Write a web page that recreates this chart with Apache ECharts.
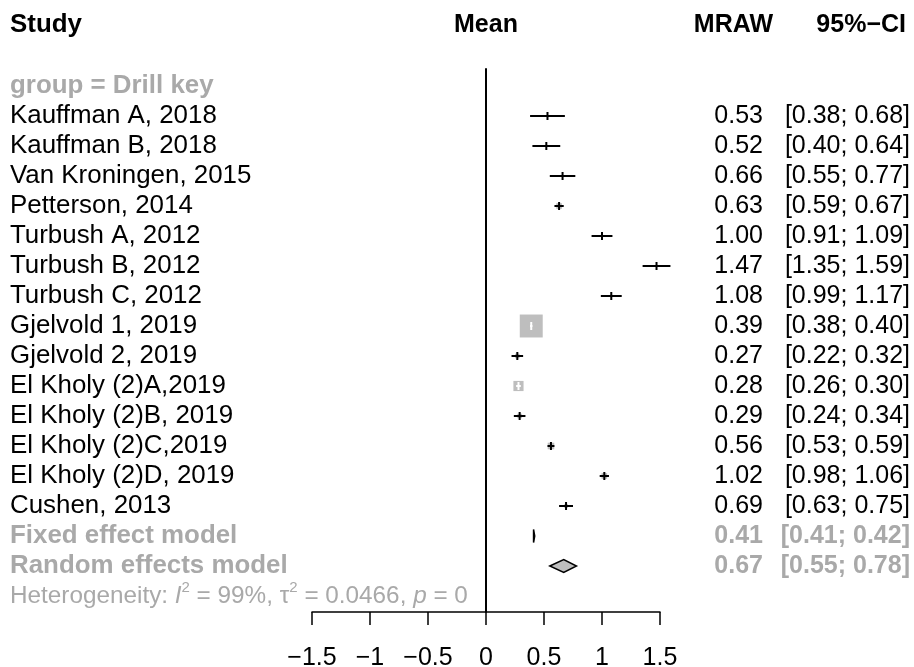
<!DOCTYPE html>
<html>
<head>
<meta charset="utf-8">
<script src="https://cdn.jsdelivr.net/npm/echarts@6/dist/echarts.min.js"></script>
<style>
  html, body { margin: 0; padding: 0; background: #ffffff; }
  #chart { width: 914px; height: 667px; }
</style>
</head>
<body>
<div id="chart"></div>
<script>
// Study-level data (raw mean, 95% CI, fixed-effect weight in %)
const groupLabel = 'group = Drill key';
const studies = [
  'Kauffman A, 2018', 'Kauffman B, 2018', 'Van Kroningen, 2015', 'Petterson, 2014',
  'Turbush A, 2012', 'Turbush B, 2012', 'Turbush C, 2012', 'Gjelvold 1, 2019',
  'Gjelvold 2, 2019', 'El Kholy (2)A,2019', 'El Kholy (2)B, 2019', 'El Kholy (2)C,2019',
  'El Kholy (2)D, 2019', 'Cushen, 2013'
];
const meanVals  = [0.53, 0.52, 0.66, 0.63, 1.00, 1.47, 1.08, 0.39, 0.27, 0.28, 0.29, 0.56, 1.02, 0.69];
const lowerCI   = [0.38, 0.40, 0.55, 0.59, 0.91, 1.35, 0.99, 0.38, 0.22, 0.26, 0.24, 0.53, 0.98, 0.63];
const upperCI   = [0.68, 0.64, 0.77, 0.67, 1.09, 1.59, 1.17, 0.40, 0.32, 0.30, 0.34, 0.59, 1.06, 0.75];
const weightPct = [0.3, 0.4, 0.5, 3.7, 0.7, 0.4, 0.7, 61.4, 2.4, 12.0, 2.4, 5.0, 3.7, 1.6];

// Pooled estimates
const pooledLabels = ['Fixed effect model', 'Random effects model'];
const pooledMean   = [0.41, 0.67];
const pooledLower  = [0.41, 0.55];
const pooledUpper  = [0.42, 0.78];

// Heterogeneity statistics
const hetI2 = '99%';
const hetTau2 = '0.0466';
const hetP = '0';

// Axis ticks
const xTicks = [-1.5, -1, -0.5, 0, 0.5, 1, 1.5];

// ---- layout ----
const FONT = '"Liberation Sans", Arial, Helvetica, sans-serif';
const FS = 25;          // headers, numbers, axis
const FS_LABEL = 25.9;  // study / model labels
const GRAY = '#a9a9a9';
const SQUARE = '#bebebe';
const ROW0 = 86, ROW_H = 30;         // pixel centre of row 0 and row spacing
const GRID_TOP = 69, GRID_BOTTOM = 612;
const X_LABEL = 10, X_MEAN = 763, X_CI = 910;

const studyRow = i => i + 1;
const pooledRow = i => studies.length + 1 + i;
const hetRow = studies.length + 3;

const fmt = v => v.toFixed(2);
const ciText = (l, u) => '[' + fmt(l) + '; ' + fmt(u) + ']';

const chart = echarts.init(document.getElementById('chart'), null, { renderer: 'canvas' });

function textEl(x, y, text, opts) {
  return {
    type: 'text',
    style: Object.assign({
      x: x, y: y, text: text,
      fill: '#000', fontSize: FS, fontFamily: FONT,
      align: 'left', verticalAlign: 'middle'
    }, opts || {})
  };
}

const option = {
  animation: false,
  grid: {
    left: 312, right: 914 - 660, top: GRID_TOP, bottom: 667 - GRID_BOTTOM,
    containLabel: false, outerBoundsMode: 'none'
  },
  xAxis: {
    type: 'value', min: xTicks[0], max: xTicks[xTicks.length - 1], interval: 0.5,
    axisLine: { show: true, onZero: false, lineStyle: { color: '#000', width: 1.5 } },
    axisTick: { show: true, length: 13, lineStyle: { color: '#000', width: 1.5 } },
    axisLabel: {
      color: '#000', fontSize: FS, fontFamily: FONT, margin: 34,
      formatter: v => (v < 0 ? '\u2212' + Math.abs(v) : String(v))
    },
    splitLine: { show: false }
  },
  yAxis: {
    type: 'value', inverse: true,
    min: (GRID_TOP - ROW0) / ROW_H, max: (GRID_BOTTOM - ROW0) / ROW_H,
    axisLine: { show: true, onZero: true, lineStyle: { color: '#000', width: 2 } },
    axisTick: { show: false }, axisLabel: { show: false }, splitLine: { show: false }
  },
  graphic: [
    { type: 'text', x: 10, y: 25, style: { text: 'Study', fontSize: FS_LABEL, fontWeight: 'bold', fontFamily: FONT, fill: '#000', align: 'left', verticalAlign: 'middle' } },
    { type: 'text', x: 486, y: 25, style: { text: 'Mean', fontSize: FS, fontWeight: 'bold', fontFamily: FONT, fill: '#000', align: 'center', verticalAlign: 'middle' } },
    { type: 'text', x: 773, y: 25, style: { text: 'MRAW', fontSize: FS, fontWeight: 'bold', fontFamily: FONT, fill: '#000', align: 'right', verticalAlign: 'middle' } },
    { type: 'text', x: 906, y: 25, style: { text: '95%\u2212CI', fontSize: FS, fontWeight: 'bold', fontFamily: FONT, fill: '#000', align: 'right', verticalAlign: 'middle' } }
  ],
  series: [
    // study confidence intervals and weight squares
    {
      type: 'custom',
      clip: false,
      data: studies.map((s, i) => [meanVals[i], studyRow(i), lowerCI[i], upperCI[i], weightPct[i]]),
      renderItem: (params, api) => {
        const m = api.value(0), row = api.value(1), lo = api.value(2), hi = api.value(3), w = api.value(4);
        const c = api.coord([m, row]);
        const pl = api.coord([lo, row]);
        const ph = api.coord([hi, row]);
        const side = 2.93 * Math.sqrt(w);
        const inside = (ph[0] - pl[0]) < side;
        const lineColor = inside ? '#ffffff' : '#000000';
        return {
          type: 'group',
          children: [
            { type: 'rect', shape: { x: c[0] - side / 2, y: c[1] - side / 2, width: side, height: side }, style: { fill: SQUARE } },
            { type: 'line', shape: { x1: pl[0], y1: c[1], x2: ph[0], y2: c[1] }, style: { stroke: lineColor, lineWidth: 2 } },
            { type: 'line', shape: { x1: c[0], y1: c[1] - 4, x2: c[0], y2: c[1] + 4 }, style: { stroke: lineColor, lineWidth: 2 } }
          ]
        };
      },
      z: 3
    },
    // pooled diamonds
    {
      type: 'custom',
      clip: false,
      data: pooledMean.map((m, i) => [m, pooledRow(i), pooledLower[i], pooledUpper[i]]),
      renderItem: (params, api) => {
        const row = api.value(1);
        const c = api.coord([api.value(0), row]);
        const pl = api.coord([api.value(2), row]);
        const ph = api.coord([api.value(3), row]);
        const h = 6.5;
        return {
          type: 'polygon',
          shape: { points: [[pl[0], c[1]], [c[0], c[1] - h], [ph[0], c[1]], [c[0], c[1] + h]] },
          style: { fill: SQUARE, stroke: '#000', lineWidth: 1.5 }
        };
      },
      z: 3
    },
    // text columns: labels, means and intervals
    {
      type: 'custom',
      clip: false,
      data: [[0, 0]].concat(studies.map((s, i) => [0, studyRow(i)]), pooledLabels.map((s, i) => [0, pooledRow(i)]), [[0, hetRow]]),
      renderItem: (params, api) => {
        const k = params.dataIndex;
        const y = api.coord([0, api.value(1)])[1];
        if (k === 0) {
          return textEl(X_LABEL, y, groupLabel, { fill: GRAY, fontWeight: 'bold', fontSize: FS_LABEL });
        }
        if (k <= studies.length) {
          const i = k - 1;
          return {
            type: 'group',
            children: [
              textEl(X_LABEL, y, studies[i], { fontSize: FS_LABEL }),
              textEl(X_MEAN, y, fmt(meanVals[i]), { align: 'right' }),
              textEl(X_CI, y, ciText(lowerCI[i], upperCI[i]), { align: 'right' })
            ]
          };
        }
        if (k <= studies.length + pooledLabels.length) {
          const i = k - studies.length - 1;
          const b = { fill: GRAY, fontWeight: 'bold' };
          return {
            type: 'group',
            children: [
              textEl(X_LABEL, y, pooledLabels[i], Object.assign({ fontSize: FS_LABEL }, b)),
              textEl(X_MEAN, y, fmt(pooledMean[i]), Object.assign({ align: 'right' }, b)),
              textEl(X_CI, y, ciText(pooledLower[i], pooledUpper[i]), Object.assign({ align: 'right' }, b))
            ]
          };
        }
        return {
          type: 'text',
          style: {
            x: X_LABEL, y: y, verticalAlign: 'middle', align: 'left',
            text: 'Heterogeneity: {it|I}{sup|2} = ' + hetI2 + ', \u03c4{sup|2} = ' + hetTau2 + ', {it|p} = ' + hetP,
            fill: GRAY, fontSize: 24.3, fontFamily: FONT,
            rich: {
              it: { fontStyle: 'italic', fontSize: 24.3, fontFamily: FONT, fill: GRAY },
              sup: { fontSize: 15, fontFamily: FONT, fill: GRAY, padding: [0, 0, 16, 0] }
            }
          }
        };
      },
      z: 4
    }
  ]
};

chart.setOption(option);
</script>
</body>
</html>
